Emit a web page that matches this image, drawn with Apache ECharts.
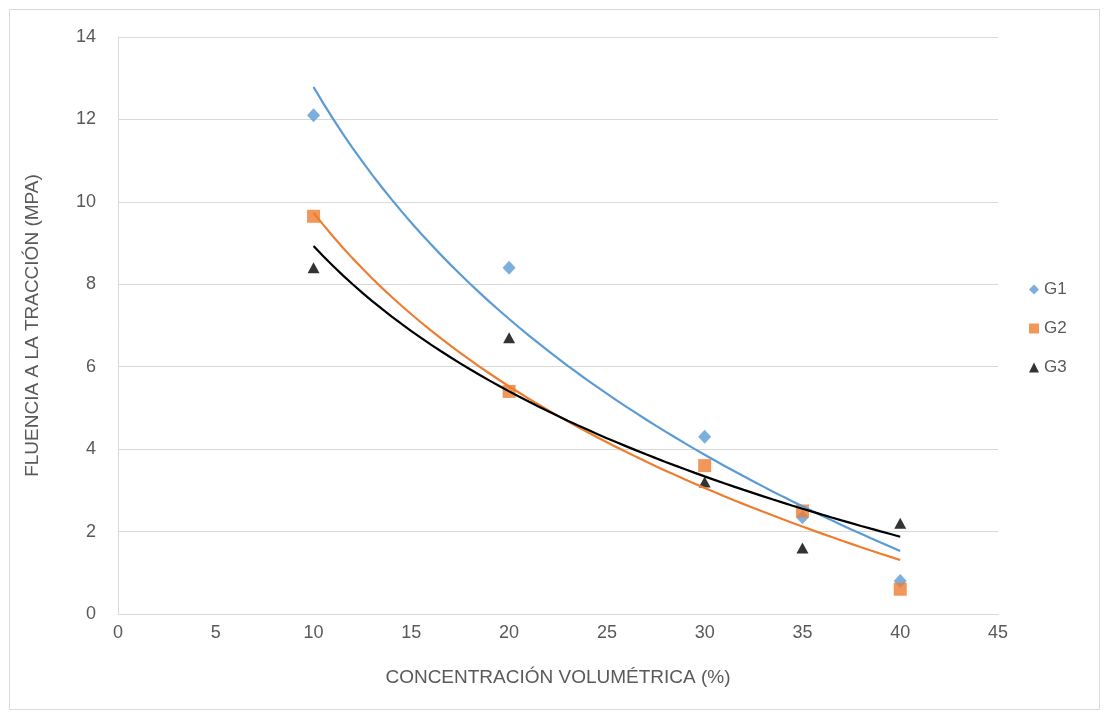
<!DOCTYPE html>
<html>
<head>
<meta charset="utf-8">
<script src="https://cdn.jsdelivr.net/npm/echarts@6/dist/echarts.min.js"></script>
<style>
html,body{margin:0;padding:0;background:#fff;}
#chart{width:1105px;height:715px;}
</style>
</head>
<body>
<div id="chart"></div>
<script>
// ---- data ----
const concentration = [10, 20, 30, 35, 40];
const g1 = [12.1, 8.4, 4.3, 2.35, 0.8];
const g2 = [9.65, 5.4, 3.6, 2.5, 0.6];
const g3 = [8.4, 6.7, 3.2, 1.6, 2.2];
const seriesNames = ['G1', 'G2', 'G3'];
const xTitle = 'CONCENTRACIÓN VOLUMÉTRICA (%)';
const yTitle = 'FLUENCIA A LA TRACCIÓN (MPA)';

// logarithmic trendline (least squares y = a + b ln x), as in the original chart
function logTrend(xs, ys) {
  const lx = xs.map(Math.log);
  const n = xs.length;
  const mx = lx.reduce((s, v) => s + v, 0) / n;
  const my = ys.reduce((s, v) => s + v, 0) / n;
  let sxy = 0, sxx = 0;
  for (let i = 0; i < n; i++) { sxy += (lx[i] - mx) * (ys[i] - my); sxx += (lx[i] - mx) ** 2; }
  const b = sxy / sxx, a = my - b * mx;
  const lo = Math.min(...xs), hi = Math.max(...xs);
  const pts = [];
  for (let k = 0; k <= 60; k++) { const x = lo + (hi - lo) * k / 60; pts.push([x, a + b * Math.log(x)]); }
  return pts;
}

const pairs = ys => concentration.map((x, i) => [x, ys[i]]);
const colors = ['#5B9BD5', '#ED7D31', '#000000'];
const groups = [g1, g2, g3];
const symbols = ['diamond', 'rect', 'triangle'];
const sizes = [[13, 14], [13, 13], [12, 11]];
const fontFam = '"Liberation Sans", Arial, sans-serif';
const textColor = '#595959';

const series = [];
groups.forEach((ys, i) => {
  series.push({
    name: seriesNames[i], type: 'scatter', data: pairs(ys),
    symbol: symbols[i], symbolSize: sizes[i],
    itemStyle: { color: colors[i] }, z: 2 + i * 0.1
  });
});
groups.forEach((ys, i) => {
  series.push({
    name: seriesNames[i] + ' trend', type: 'line', data: logTrend(concentration, ys),
    showSymbol: false, smooth: false,
    lineStyle: { color: colors[i], width: 2.2 }, z: 5 + i * 0.1, silent: true
  });
});

const chart = echarts.init(document.getElementById('chart'));
chart.setOption({
  animation: false,
  backgroundColor: '#fff',
  textStyle: { fontFamily: fontFam },
  graphic: [{
    type: 'rect', left: 7, top: 7, shape: { width: 1090, height: 700 },
    style: { fill: 'none', stroke: '#D9D9D9', lineWidth: 1 }, silent: true, z: -1
  }],
  grid: { left: 118, right: 107, top: 37, bottom: 101 },
  legend: {
    data: seriesNames, orient: 'vertical', left: 1024, top: 276,
    itemGap: 22, itemWidth: 10, itemHeight: 10,
    textStyle: { color: textColor, fontSize: 17, fontFamily: fontFam }
  },
  xAxis: {
    type: 'value', min: 0, max: 45, interval: 5,
    name: xTitle, nameLocation: 'middle', nameGap: 54,
    nameTextStyle: { color: textColor, fontSize: 19, fontFamily: fontFam },
    axisLine: { show: true, lineStyle: { color: '#D9D9D9' } },
    axisTick: { show: false },
    axisLabel: { color: textColor, fontSize: 18, margin: 10, fontFamily: fontFam },
    splitLine: { show: false }
  },
  yAxis: {
    type: 'value', min: 0, max: 14, interval: 2,
    name: yTitle, nameLocation: 'middle', nameGap: 76, nameRotate: 90,
    nameTextStyle: { color: textColor, fontSize: 19, fontFamily: fontFam },
    axisLine: { show: true, lineStyle: { color: '#D9D9D9' } },
    axisTick: { show: false },
    axisLabel: { color: textColor, fontSize: 18, margin: 22, fontFamily: fontFam },
    splitLine: { show: true, lineStyle: { color: '#D9D9D9' } }
  },
  series: series
});
</script>
</body>
</html>
